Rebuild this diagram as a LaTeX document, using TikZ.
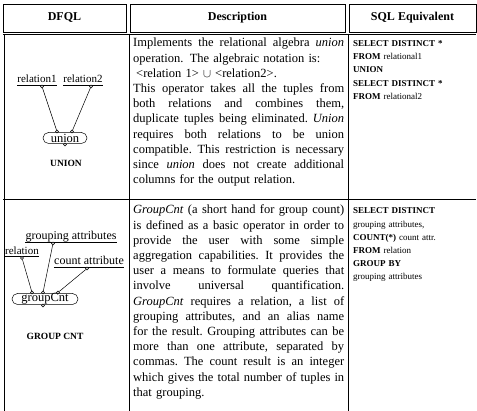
\documentclass[tikz,border=0pt]{standalone}
\usepackage{fontspec}
\setmainfont{Liberation Serif}
\newcommand\jl[1]{\makebox[211pt][s]{\spaceskip=0pt\xspaceskip=0pt\frenchspacing #1}}
\begin{document}
\begin{tikzpicture}[x=1pt,y=-1pt,
  hframe/.style={line width=0.8pt},
  rule/.style={line width=0.6pt},
  hdr/.style={font=\fontsize{12}{14}\selectfont\bfseries, inner sep=0},
  desc/.style={anchor=base west, inner sep=0, text width=211pt, align=left, font=\fontsize{12.5}{15.2}\selectfont},
  sql/.style={anchor=base west, inner sep=0, text width=122pt, align=left, font=\fontsize{9}{13.2}\selectfont},
  lbl/.style={inner sep=0, anchor=base, font=\fontsize{11}{13}\selectfont},
  op/.style={draw, line width=0.5pt, rounded corners=5.5pt, minimum height=11pt, inner sep=0, font=\fontsize{12.5}{14}\selectfont},
  port/.style={circle, draw, fill=white, inner sep=0, minimum size=3pt, line width=0.4pt},
  capt/.style={inner sep=0, font=\fontsize{9.5}{11}\selectfont\bfseries},
  wire/.style={line width=0.5pt},
  uline/.style={line width=0.5pt}]
\useasboundingbox (0,0) rectangle (477,411);
% header
\draw[hframe] (3,4) rectangle (126,32);
\draw[hframe] (130,4) rectangle (345,32);
\draw[hframe] (349,4) rectangle (476,32);
\node[hdr] (h1) at (64.5,18) {DFQL};
\node[hdr] (h2) at (237.5,18) {Description};
\node[hdr] (h3) at (412.5,18) {SQL Equivalent};
% body grid
\draw[rule] (3,34) -- (476,34);
\draw[rule] (4,34) -- (4,411);
\draw[rule] (129,34) -- (129,411);
\draw[rule] (348,34) -- (348,411);
\draw[rule] (3,199) -- (476,199);
% row 1 description
\node[desc] (d1) at (133,47) {%
\jl{Implements the relational algebra \textit{union}}\\
operation. The algebraic notation is:\\
\hspace*{3pt}<relation 1> $\cup$ <relation2>.\\
\jl{This operator takes all the tuples from}\\
\jl{both relations and combines them,}\\
\jl{duplicate tuples being eliminated. \textit{Union}}\\
\jl{requires both relations to be union}\\
\jl{compatible. This restriction is necessary}\\
\jl{since \textit{union} does not create additional}\\
columns for the output relation.};
% row 2 description
\node[desc] (d2) at (133,214) {%
\jl{\textit{GroupCnt} (a short hand for group count)}\\
\jl{is defined as a basic operator in order to}\\
\jl{provide the user with some simple}\\
\jl{aggregation capabilities. It provides the}\\
\jl{user a means to formulate queries that}\\
\jl{involve universal quantification.}\\
\jl{\textit{GroupCnt} requires a relation, a list of}\\
\jl{grouping attributes, and an alias name}\\
\jl{for the result. Grouping attributes can be}\\
\jl{more than one attribute, separated by}\\
\jl{commas. The count result is an integer}\\
\jl{which gives the total number of tuples in}\\
that grouping.};
% SQL
\node[sql] (s1) at (353,46.5) {%
\textbf{SELECT DISTINCT *}\\
\textbf{FROM} relational1\\
\textbf{UNION}\\
\textbf{SELECT DISTINCT *}\\
\textbf{FROM} relational2};
\node[sql] (s2) at (353,214) {%
\textbf{SELECT DISTINCT}\\
grouping attributes,\\
\textbf{COUNT(*)} count attr.\\
\textbf{FROM} relation\\
\textbf{GROUP BY}\\
grouping attributes};
% DFQL union
\node[lbl] (r1) at (37,83) {relation1};
\node[lbl] (r2) at (83,83) {relation2};
\draw[uline] ([yshift=-2pt]r1.base west) -- ([yshift=-2pt]r1.base east);
\draw[uline] ([yshift=-2pt]r2.base west) -- ([yshift=-2pt]r2.base east);
\node[op, minimum width=44pt] (un) at (65,138) {union};
\node[port] (pr1) at (42,86.5) {};
\node[port] (pr2) at (91,86.5) {};
\node[port] (pu1) at (57,131.5) {};
\node[port] (pu2) at (72,131.5) {};
\node[port] (pu3) at (65,144.5) {};
\draw[wire] (pr1) -- (pu1);
\draw[wire] (pr2) -- (pu2);
\node[capt] (c1) at (66,163) {UNION};
% DFQL group cnt
\node[lbl] (rl) at (22,254.5) {relation};
\node[lbl, font=\fontsize{12}{14}\selectfont] (ga) at (71,240) {grouping attributes};
\node[lbl, font=\fontsize{12}{14}\selectfont] (ca) at (89,265) {count attribute};
\draw[uline] ([yshift=-2pt]rl.base west) -- ([yshift=-2pt]rl.base east);
\draw[uline] ([yshift=-2pt]ga.base west) -- ([yshift=-2pt]ga.base east);
\draw[uline] ([yshift=-2pt]ca.base west) -- ([yshift=-2pt]ca.base east);
\node[op, minimum width=66pt] (gc) at (45,299) {groupCnt};
\node[port] (prl) at (22,258) {};
\node[port] (pga) at (53,243.5) {};
\node[port] (pca) at (87,268.5) {};
\node[port] (pg1) at (32,292.5) {};
\node[port] (pg2) at (43,292.5) {};
\node[port] (pg3) at (58,292.5) {};
\node[port] (pg4) at (43,305.5) {};
\draw[wire] (prl) -- (pg1);
\draw[wire] (pga) -- (pg2);
\draw[wire] (pca) -- (pg3);
\node[capt] (c2) at (55,336) {GROUP CNT};
\end{tikzpicture}
\end{document}
